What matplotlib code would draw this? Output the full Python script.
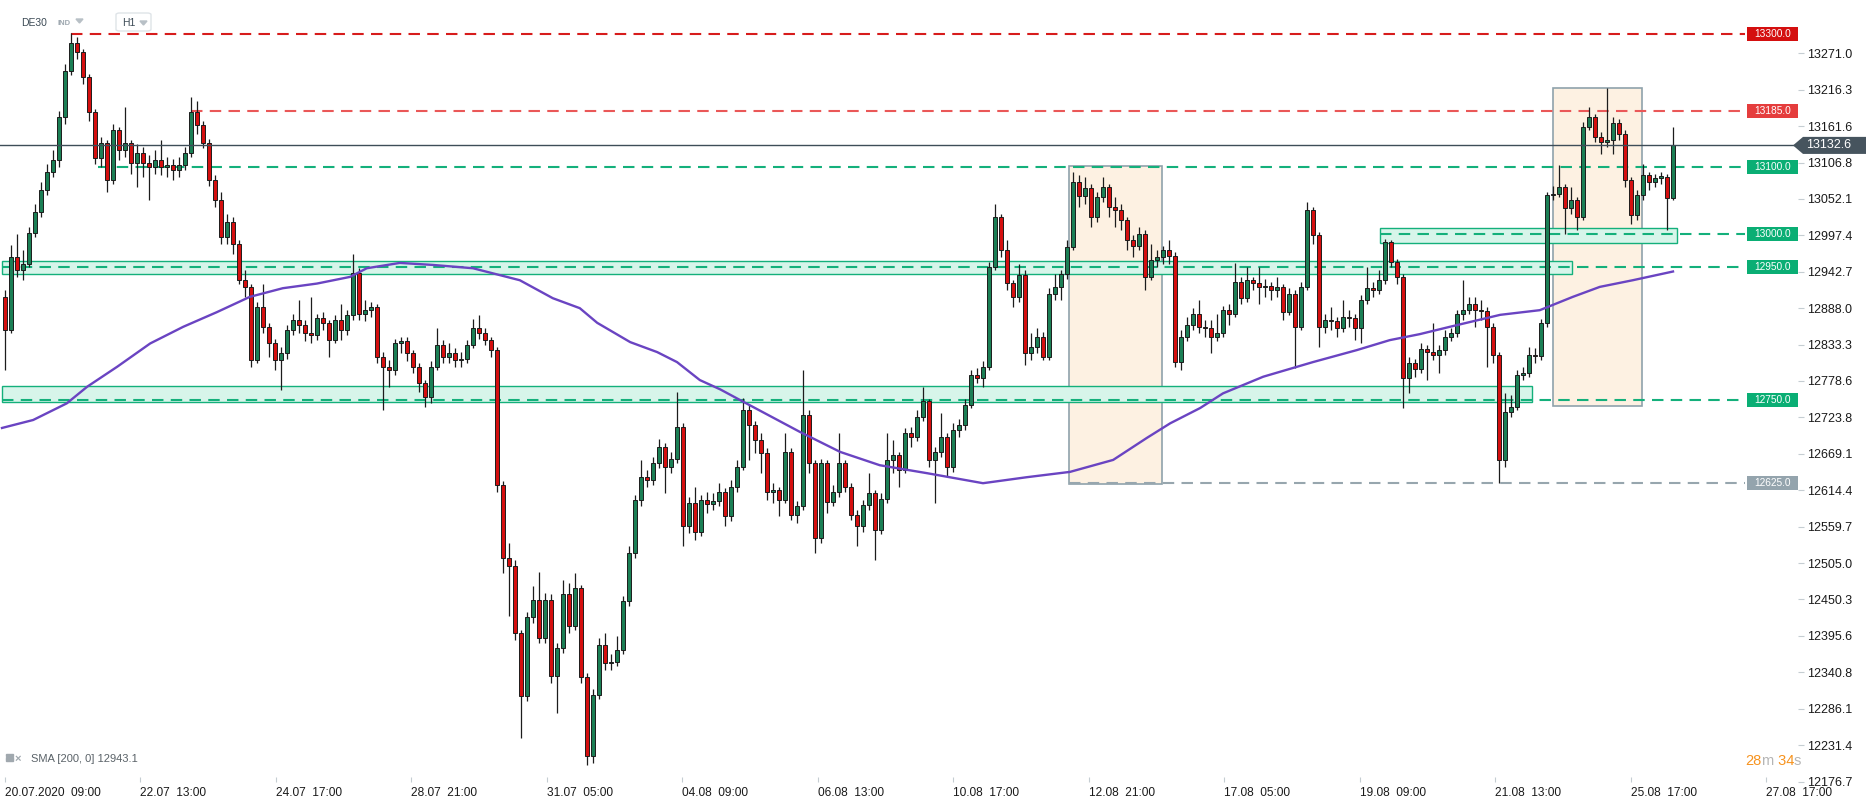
import numpy as np
import matplotlib
matplotlib.use('Agg')
import matplotlib.pyplot as plt
from matplotlib.patches import Rectangle, Polygon, FancyBboxPatch
from matplotlib.transforms import blended_transform_factory

plt.rcParams['font.family'] = ['Liberation Sans', 'DejaVu Sans']

# Data ------------------------------------------
FIRST_OPEN = 12905.0
closes = [12855, 12965, 12945, 12955, 13001, 13032, 13065, 13093, 13110, 13175,
          13245, 13286, 13273, 13235, 13183, 13113, 13136, 13081, 13156, 13126,
          13136, 13106, 13121, 13106, 13100, 13110, 13100, 13103, 13095, 13103,
          13121, 13183, 13163, 13136, 13081, 13050, 12995, 13018, 12985, 12930,
          12920, 12810, 12890, 12860, 12836, 12810, 12820, 12855, 12870, 12863,
          12850, 12848, 12873, 12865, 12840, 12870, 12855, 12878, 12941, 12880,
          12885, 12890, 12815, 12800, 12795, 12835, 12838, 12820, 12800, 12775,
          12755, 12800, 12833, 12815, 12820, 12810, 12812, 12833, 12858, 12850,
          12840, 12825, 12622, 12512, 12500, 12400, 12305, 12424, 12450, 12393,
          12450, 12335, 12377, 12458, 12410, 12468, 12334, 12215, 12307, 12382,
          12355, 12357, 12375, 12448, 12520, 12600, 12635, 12630, 12655, 12680,
          12650, 12662, 12710, 12560, 12595, 12552, 12600, 12593, 12598, 12612,
          12575, 12620, 12650, 12735, 12712, 12690, 12670, 12612, 12615, 12600,
          12672, 12577, 12590, 12728, 12655, 12543, 12655, 12597, 12612, 12655,
          12620, 12577, 12560, 12592, 12610, 12555, 12602, 12660, 12667, 12645,
          12700, 12695, 12725, 12748, 12660, 12672, 12695, 12650, 12705, 12712,
          12743, 12787, 12783, 12800, 12950, 13025, 12975, 12926, 12905, 12938,
          12820, 12830, 12845, 12815, 12910, 12920, 12940, 12980, 13077, 13056,
          13068, 13025, 13055, 13070, 13040, 13035, 13020, 12990, 12982, 13000,
          12935, 12960, 12965, 12975, 12967, 12807, 12845, 12862, 12880, 12860,
          12858, 12845, 12850, 12885, 12880, 12928, 12903, 12930, 12926, 12920,
          12922, 12915, 12920, 12883, 12910, 12860, 12920, 13035, 12998, 12860,
          12870, 12868, 12858, 12875, 12873, 12858, 12900, 12918, 12916, 12930,
          12987, 12958, 12935, 12783, 12806, 12797, 12827, 12822, 12817, 12825,
          12845, 12850, 12880, 12885, 12895, 12885, 12884, 12860, 12818, 12660,
          12732, 12740, 12787, 12790, 12818, 12816, 12866, 13058, 13060, 13070,
          13038, 13050, 13025, 13160, 13175, 13145, 13138, 13141, 13166, 13150,
          13081, 13028, 13058, 13088, 13078, 13084, 13085, 13054, 13132.6]
highs = [12915, 12983, 13000, 12975, 13010, 13045, 13078, 13105, 13125, 13185,
         13255, 13301, 13295, 13278, 13240, 13188, 13145, 13140, 13165, 13160,
         13190, 13140, 13135, 13130, 13118, 13125, 13140, 13115, 13112, 13115,
         13130, 13206, 13200, 13170, 13142, 13088, 13062, 13030, 13025, 12990,
         12945, 12925, 12898, 12925, 12866, 12842, 12830, 12862, 12880, 12900,
         12870, 12905, 12880, 12882, 12870, 12878, 12895, 12885, 12970, 12948,
         12900, 12898, 12895, 12822, 12810, 12842, 12845, 12845, 12825, 12805,
         12780, 12808, 12858, 12840, 12835, 12828, 12822, 12840, 12872, 12878,
         12858, 12845, 12830, 12628, 12535, 12510, 12405, 12432, 12470, 12492,
         12460, 12458, 12385, 12480, 12475, 12490, 12472, 12340, 12315, 12392,
         12400, 12368, 12395, 12455, 12530, 12608, 12660, 12645, 12665, 12692,
         12685, 12672, 12762, 12715, 12605, 12620, 12608, 12612, 12610, 12625,
         12618, 12630, 12660, 12753, 12742, 12718, 12700, 12678, 12625, 12620,
         12700, 12678, 12598, 12795, 12735, 12660, 12662, 12660, 12622, 12700,
         12660, 12625, 12585, 12600, 12640, 12615, 12610, 12700, 12690, 12672,
         12708, 12710, 12735, 12770, 12752, 12680, 12730, 12700, 12715, 12722,
         12752, 12795, 12798, 12808, 12958, 13045, 13030, 12990, 12930, 12955,
         12945, 12850, 12858, 12852, 12918, 12940, 12945, 12990, 13093, 13088,
         13085, 13075, 13062, 13085, 13075, 13055, 13045, 13025, 12998, 13010,
         13005, 12985, 12975, 12982, 12990, 12972, 12855, 12875, 12888, 12900,
         12870, 12870, 12880, 12892, 12895, 12956, 12935, 12950, 12935, 12950,
         12932, 12928, 12935, 12925, 12918, 12915, 12928, 13048, 13040, 13002,
         12880, 12890, 12875, 12900, 12885, 12880, 12908, 12950, 12928, 12945,
         12992, 12990, 12962, 12940, 12815, 12812, 12835, 12832, 12866, 12832,
         12855, 12858, 12885, 12930, 12905, 12905, 12900, 12890, 12865, 12822,
         12760, 12758, 12795, 12800, 12830, 12828, 12872, 13062, 13072, 13103,
         13075, 13070, 13055, 13168, 13190, 13180, 13152, 13219, 13175, 13172,
         13155, 13085, 13065, 13105, 13092, 13090, 13092, 13090, 13160]
lows = [12795, 12850, 12935, 12930, 12950, 12995, 13025, 13058, 13085, 13100,
        13165, 13238, 13262, 13225, 13170, 13105, 13100, 13063, 13075, 13110,
        13115, 13090, 13070, 13085, 13050, 13090, 13088, 13085, 13080, 13085,
        13095, 13115, 13150, 13128, 13072, 13040, 12985, 12985, 12970, 12925,
        12905, 12800, 12805, 12850, 12815, 12795, 12765, 12812, 12848, 12850,
        12838, 12835, 12840, 12855, 12815, 12835, 12840, 12848, 12870, 12870,
        12868, 12875, 12805, 12735, 12770, 12788, 12820, 12808, 12790, 12762,
        12740, 12745, 12795, 12805, 12805, 12800, 12800, 12805, 12828, 12842,
        12832, 12815, 12612, 12490, 12425, 12390, 12242, 12298, 12415, 12385,
        12385, 12325, 12280, 12370, 12400, 12405, 12325, 12201, 12205, 12300,
        12345, 12345, 12350, 12368, 12440, 12512, 12590, 12620, 12622, 12648,
        12610, 12640, 12655, 12530, 12550, 12540, 12545, 12580, 12585, 12590,
        12560, 12568, 12612, 12645, 12660, 12670, 12640, 12600, 12595, 12575,
        12595, 12570, 12565, 12585, 12640, 12520, 12535, 12580, 12590, 12605,
        12612, 12570, 12530, 12552, 12585, 12510, 12548, 12595, 12640, 12620,
        12640, 12680, 12688, 12718, 12650, 12595, 12665, 12635, 12642, 12695,
        12705, 12738, 12775, 12770, 12795, 12945, 12965, 12915, 12890, 12898,
        12803, 12810, 12820, 12810, 12810, 12900, 12900, 12932, 12975, 13040,
        13045, 13010, 13018, 13048, 13025, 13010, 13005, 12975, 12965, 12975,
        12915, 12930, 12950, 12955, 12955, 12800, 12795, 12838, 12855, 12850,
        12845, 12820, 12838, 12845, 12862, 12875, 12895, 12898, 12915, 12895,
        12905, 12900, 12905, 12870, 12878, 12798, 12855, 12915, 12985, 12830,
        12850, 12855, 12845, 12852, 12860, 12840, 12835, 12895, 12905, 12910,
        12925, 12950, 12925, 12738, 12760, 12785, 12790, 12780, 12810, 12790,
        12818, 12838, 12845, 12870, 12880, 12860, 12870, 12800, 12805, 12625,
        12650, 12725, 12735, 12780, 12785, 12805, 12810, 12860, 13050, 13055,
        13000, 13030, 13005, 13020, 13155, 13138, 13120, 13130, 13120, 13140,
        13070, 13015, 13020, 13050, 13065, 13070, 13075, 13006, 13050]

# SMA(200) (candle index, value)
sma_idx = [-0.5, 4.7, 10.3, 13.7, 18.7, 24.2, 29.7, 35.3, 40.8, 46.3, 52, 57.5, 60.3,
           65.8, 71.3, 78, 85.8, 91.3, 95.8, 98.7, 104.2, 108.7, 112, 115.8, 119.2,
           122.5, 132.5, 139.2, 145.8, 153.7, 163, 170.3, 177.5, 184.7, 190.3, 194.2,
           199.2, 203, 209.7, 218, 225.3, 230.8, 235.8, 240.8, 249.2, 255.8, 261.3,
           265.8, 271.3, 278]
sma_val = [12708, 12720, 12745, 12770, 12800, 12835, 12860, 12882, 12905, 12918, 12925,
           12935, 12948, 12956, 12953, 12948, 12930, 12903, 12888, 12866, 12837, 12822,
           12807, 12780, 12766, 12750, 12702, 12672, 12652, 12640, 12625, 12634, 12642,
           12660, 12693, 12715, 12738, 12760, 12785, 12807, 12825, 12840, 12849, 12860,
           12878, 12885, 12905, 12920, 12930, 12943.1]

y_ticks = [13271.0, 13216.3, 13161.6, 13106.8, 13052.1, 12997.4, 12942.7, 12888.0,
           12833.3, 12778.6, 12723.8, 12669.1, 12614.4, 12559.7, 12505.0, 12450.3,
           12395.6, 12340.8, 12286.1, 12231.4, 12176.7]
x_labels = ['20.07.2020  09:00', '22.07  13:00', '24.07  17:00', '28.07  21:00',
            '31.07  05:00', '04.08  09:00', '06.08  13:00', '10.08  17:00',
            '12.08  21:00', '17.08  05:00', '19.08  09:00', '21.08  13:00',
            '25.08  17:00', '27.08  17:00']
CANDLES_PER_LABEL = 22.58

# level, start candle, colour
levels = [(13300.0, 11, '#d71c1c'), (13185.0, 31, '#ea5858'),
          (13100.0, 15.5, '#14b07b'), (13000.0, 229.2, '#14b07b'),
          (12950.0, -0.5, '#14b07b'), (12750.0, -0.5, '#14b07b'),
          (12625.0, 177.3, '#97a6ae')]
tag_colors = ['#d40f0f', '#e53d3d', '#0aae74', '#0aae74', '#0aae74', '#0aae74', '#94a4ad']
zones = [(-0.5, 261.2, 12939, 12959), (-0.5, 254.5, 12747, 12771), (229.2, 278.7, 12986, 13008)]
ranges = [(177.3, 192.8, 12624, 13101), (258.0, 272.8, 12741, 13219)]
last_price = 13132.6
sma_last = 12943.1

# PLOT ------------------------------------------
W, H = 1866, 806
fig = plt.figure(figsize=(W / 100, H / 100), dpi=100)
ax = fig.add_axes([0, 1 - 782 / H, 1798 / W, 782 / H])
ax.set_xlim(-5 / 6, (1798 - 5) / 6)
ax.set_ylim(13351.1 - 1.5027 * 782, 13351.1)
for s in ax.spines.values():
    s.set_visible(False)

c = np.array(closes, dtype=float)
o = np.concatenate([[FIRST_OPEN], c[:-1]])
x = np.arange(len(c))
up = c >= o

for x0, x1, lo, hi in ranges:
    ax.add_patch(Rectangle((x0, lo), x1 - x0, hi - lo, facecolor='#fdf1e2',
                           edgecolor='#8fa2ab', lw=1.2, zorder=0.5))
for x0, x1, lo, hi in zones:
    ax.add_patch(Rectangle((x0, lo), x1 - x0, hi - lo, facecolor='#d7f5ea',
                           edgecolor='#14b07b', lw=1.0, zorder=1))
for lvl, start, col in levels:
    ax.hlines(lvl, start, 290, colors=col, lw=1.5, linestyles=(0, (5.5, 3.5)), zorder=2)

ax.vlines(x, lows, highs, color='#1c1c1c', lw=0.9, zorder=3)
ax.bar(x, np.maximum(np.abs(c - o), 2.0), width=0.7, bottom=np.minimum(o, c),
       color=np.where(up, '#1b7f55', '#d50f0f'), edgecolor='#1c1c1c', linewidth=0.7, zorder=4)

ax.plot(sma_idx, sma_val, color='#6a44c2', lw=1.7, zorder=5)
ax.axhline(last_price, color='#3e4d58', lw=1.0, zorder=6)

# price tags on the right
tr = blended_transform_factory(ax.transAxes, ax.transData)
for (lvl, _, _), tc in zip(levels, tag_colors):
    ax.add_patch(Rectangle((1747 / 1798, lvl - 10.5), 51 / 1798, 21, facecolor=tc,
                           edgecolor='none', transform=tr, clip_on=False, zorder=7))
    ax.text(1772.5 / 1798, lvl, '%.1f' % lvl, transform=tr, ha='center', va='center',
            fontsize=7.3, color='white', zorder=8)
ax.add_patch(Polygon([(1793 / 1798, last_price), (1803 / 1798, last_price + 12.8),
                      (1866 / 1798, last_price + 12.8), (1866 / 1798, last_price - 12.8),
                      (1803 / 1798, last_price - 12.8)], closed=True, facecolor='#46545e',
                     edgecolor='none', transform=tr, clip_on=False, zorder=7))
ax.text(1828.5 / 1798, last_price, '%.1f' % last_price, transform=tr, ha='center', va='center',
        fontsize=9, color='white', zorder=8)

ax.yaxis.tick_right()
ax.set_yticks(y_ticks)
ax.set_yticklabels(['%.1f' % v for v in y_ticks])
ax.tick_params(axis='y', length=4.3, width=0.8, color='#c5cdd2', pad=2,
               labelsize=9, labelcolor='#1a1a1a')
ax.set_xticks(np.arange(len(x_labels)) * CANDLES_PER_LABEL)
ax.set_xticklabels(x_labels)
for lab in ax.get_xticklabels():
    lab.set_ha('left')
ax.tick_params(axis='x', direction='in', length=3.6, width=0.8, color='#c5cdd2', pad=3.5,
               labelsize=8.6, labelcolor='#1a1a1a')

# header and legend -----------------------------
def fx(px):
    return px / W

def fy(py):
    return 1 - py / H

fig.text(fx(21), fy(23.5), 'DE30', fontsize=7.5, color='#3c4a55', va='center')
fig.text(fx(57), fy(23.5), 'IND', fontsize=5.5, color='#9ea8b0', va='center', weight='bold')
fig.add_artist(Polygon([(fx(76), fy(19)), (fx(83), fy(19)), (fx(79.5), fy(23))],
                       transform=fig.transFigure, color='#b8c0c6'))
fig.add_artist(FancyBboxPatch((fx(116), fy(31)), fx(35), 18 / H, boxstyle='round,pad=0,rounding_size=0.002',
                              transform=fig.transFigure, facecolor='white', edgecolor='#dfe4e8', lw=1))
fig.text(fx(122), fy(23.5), 'H1', fontsize=7.5, color='#3c4a55', va='center')
fig.add_artist(Polygon([(fx(140), fy(21)), (fx(147), fy(21)), (fx(143.5), fy(25))],
                       transform=fig.transFigure, color='#b8c0c6'))

for k in range(3):
    fig.add_artist(Rectangle((fx(6), fy(756 + 2.5 * k)), fx(7), 1.6 / H,
                             transform=fig.transFigure, color='#a0a8ae'))
fig.text(fx(15), fy(759), '×', fontsize=8, color='#a0a8ae', va='center', weight='bold')
fig.text(fx(31), fy(759.5), 'SMA [200, 0] %.1f' % sma_last, fontsize=8, color='#5a6268', va='center')

# countdown
renderer = fig.canvas.get_renderer()
xpos = 1745
for txt, col in [('28', '#f7931e'), ('m', '#b5b5b5'), (' 34', '#f7931e'), ('s', '#b5b5b5')]:
    t = fig.text(fx(xpos), fy(761), txt, fontsize=10.5, color=col, va='center')
    xpos += t.get_window_extent(renderer).width

fig.savefig('out.png', dpi=100)
